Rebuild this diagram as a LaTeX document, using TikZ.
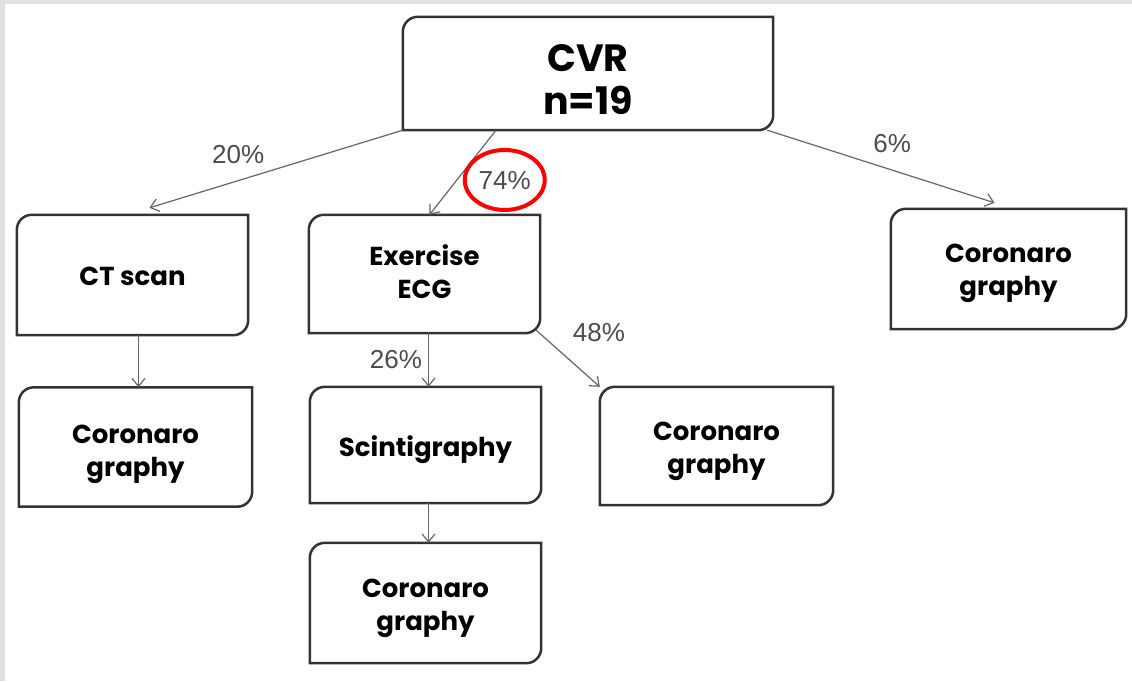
\documentclass[tikz,border=0pt]{standalone}
\usepackage{fontspec}
\setmainfont{Liberation Sans}
\newfontfamily\boxfont{Poppins}
\usetikzlibrary{arrows.meta}

\newcommand\roundtwo[1]{\draw[boxline] (#1.south west) -- ([yshift=-15pt]#1.north west) arc[start angle=180,end angle=90,radius=15pt] -- (#1.north east) -- ([yshift=15pt]#1.south east) arc[start angle=0,end angle=-90,radius=15pt] -- cycle;}
\newcommand\boxtext[2][3pt]{\raisebox{-#1}[\height][\depth]{\begin{tabular}{@{}c@{}}#2\end{tabular}}}

\begin{document}
\begin{tikzpicture}[x=1pt,y=-1pt,
  box/.style={minimum width=231pt,minimum height=119pt,inner sep=0pt,font=\boxfont\bfseries\fontsize{26}{33}\selectfont},
  boxline/.style={draw=black!80,line width=2.5pt},
  pct/.style={inner sep=0pt,text=black!70,font=\fontsize{26}{30}\selectfont},
  link/.style={draw=black!60,line width=1.2pt,-{Straight Barb[length=8pt,width=13pt]}}]
\fill[black!12] (0,0) rectangle (1132,681);
\fill[white] (5,4) rectangle (1132,681);
\node[box,minimum width=370pt,minimum height=113pt,font=\boxfont\bfseries\fontsize{38}{43}\selectfont] (cvr) at (588,73.5) {\boxtext[10.5pt]{CVR\\n=19}};
\node[box,minimum height=120pt] (ct) at (132.5,275) {\boxtext[4pt]{CT scan}};
\node[box,minimum height=118pt] (ecg) at (424.5,274) {\boxtext[1pt]{Exercise\\ECG}};
\node[box,minimum width=235pt,minimum height=120pt] (cortop) at (1008.5,269) {\boxtext[3pt]{Coronaro\\graphy}};
\node[box,minimum width=233pt] (corct) at (135.5,447) {\boxtext[6pt]{Coronaro\\graphy}};
\node[box,minimum height=116pt] (scint) at (425.5,445) {\boxtext[5pt]{Scintigraphy}};
\node[box,minimum width=233pt,minimum height=118pt] (cormid) at (716.5,446) {\boxtext[4pt]{Coronaro\\graphy}};
\node[box,minimum height=120pt] (corbot) at (425.5,603) {\boxtext[4pt]{Coronaro\\graphy}};
\foreach \n in {cvr,ct,ecg,cortop,corct,scint,cormid,corbot} \roundtwo{\n};
\draw[link] (cvr.south west) -- ([xshift=17pt,yshift=7pt]ct.north) node[pct,pos=0.65,above=16pt] {20\%};
\draw[link] ([xshift=-92pt]cvr.south) -- ([xshift=5pt]ecg.north) node[pct,pos=0.6,right=22pt] (p74) {74\%};
\draw[red,line width=4pt] ([yshift=1pt]p74.center) ellipse[x radius=40pt,y radius=30pt];
\draw[link] ([xshift=-6pt]cvr.south east) -- ([xshift=-14pt,yshift=6pt]cortop.north) node[pct,pos=0.55,above=17pt] {6\%};
\draw[link] ([xshift=6pt]ct.south) -- ([xshift=6pt]ct.south |- corct.north);
\draw[link] ([xshift=4pt]ecg.south) -- ([xshift=4pt]ecg.south |- scint.north) node[pct,pos=0.5,left=6pt] {26\%};
\draw[link] ([xshift=-4pt,yshift=3pt]ecg.south east) -- (cormid.north west) node[pct,pos=0.05,right=33pt] {48\%};
\draw[link] ([xshift=3pt]scint.south) -- ([xshift=3pt]scint.south |- corbot.north);
\end{tikzpicture}
\end{document}
